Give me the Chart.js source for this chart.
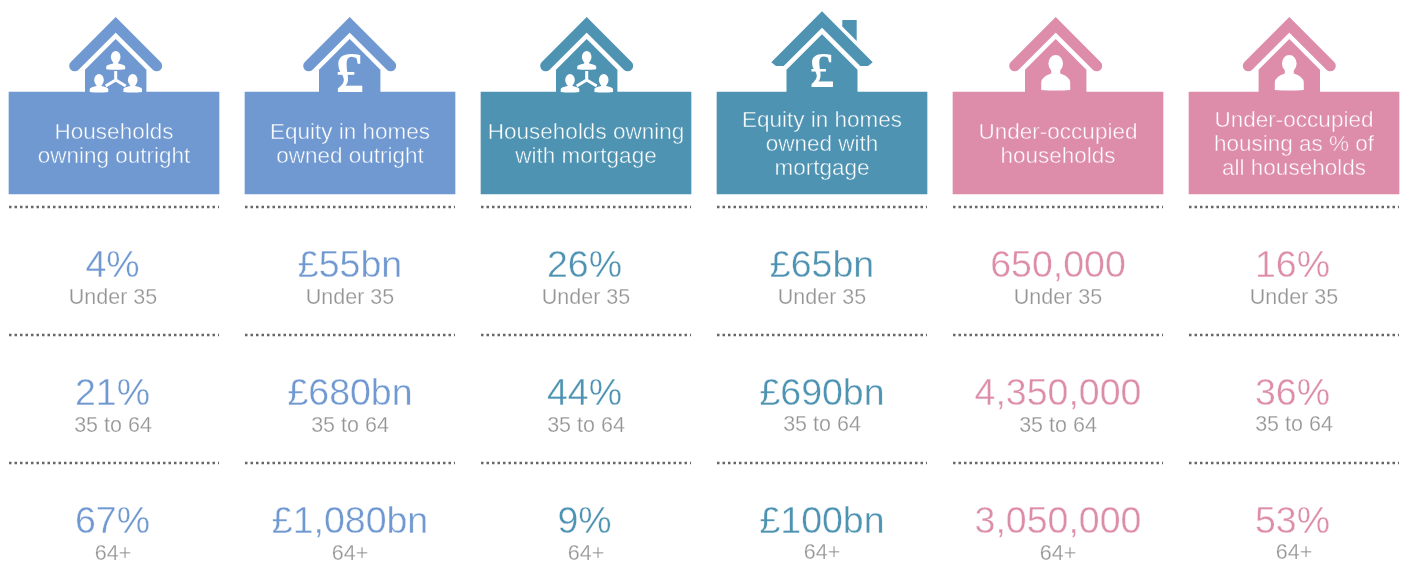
<!DOCTYPE html>
<html>
<head>
<meta charset="utf-8">
<title>Housing wealth by age</title>
<script src="https://cdn.jsdelivr.net/npm/chart.js@4/dist/chart.umd.min.js"></script>
<style>
  html, body { margin: 0; padding: 0; background: #fff; overflow: hidden; }
  canvas { display: block; }
</style>
</head>
<body>
<canvas id="chart" width="1405" height="585"></canvas>
<script>
// Column headings, one entry per text line
const categories = [
  ['Households', 'owning outright'],
  ['Equity in homes', 'owned outright'],
  ['Households owning', 'with mortgage'],
  ['Equity in homes', 'owned with', 'mortgage'],
  ['Under-occupied', 'households'],
  ['Under-occupied', 'housing as % of', 'all households']
];
const ageGroups = ['Under 35', '35 to 64', '64+'];

const householdsOutright = ['4%', '21%', '67%'];
const equityOutright = ['£55bn', '£680bn', '£1,080bn'];
const householdsMortgage = ['26%', '44%', '9%'];
const equityMortgage = ['£65bn', '£690bn', '£100bn'];
const underOccupied = ['650,000', '4,350,000', '3,050,000'];
const underOccupiedShare = ['16%', '36%', '53%'];
const columns = [householdsOutright, equityOutright, householdsMortgage, equityMortgage, underOccupied, underOccupiedShare];

const BLUE = '#7099d1';
const TEAL = '#4e93b2';
const PINK = '#dd8da9';
const columnColors = [BLUE, BLUE, TEAL, TEAL, PINK, PINK];
const icons = ['people', 'pound', 'people', 'poundChimney', 'person', 'person'];
const iconShift = [1.7, -0.3, 0.7, 0, -2.3, -4.7];
const labelShift = [-1, 0, 0, 0, 0, 0];
const labelLift = [0, 0, 0, 1, 0, 1];

const FIRST_COLUMN = 114, COLUMN_STEP = 236, BOX_WIDTH = 210;
const BOX_TOP = 92, BOX_BOTTOM = 194;
const SEPARATORS = [207, 335, 463];
const VALUE_BASELINES = [277, 405, 533];
const LABEL_BASELINES = [304, 432, 560];
const halfBox = (BOX_WIDTH / 2) / COLUMN_STEP;

// one dotted line per column and row
const separatorSets = [];
columns.forEach((col, c) => {
  SEPARATORS.forEach(y => {
    separatorSets.push({
      type: 'line',
      data: [{ x: c - halfBox, y }, { x: c + halfBox, y }],
      borderColor: '#666',
      borderWidth: 2.5,
      borderDash: [2.5, 3],
      pointRadius: 0
    });
  });
});

function person(ctx, headY, rx, ry, neck, shoulderY, bottom, halfW, cx) {
  ctx.beginPath();
  ctx.ellipse(cx, headY, rx, ry, 0, 0, Math.PI * 2);
  ctx.fill();
  ctx.beginPath();
  ctx.moveTo(cx - neck, headY);
  ctx.lineTo(cx - neck, shoulderY);
  ctx.quadraticCurveTo(cx - halfW, shoulderY + (bottom - shoulderY) * 0.2, cx - halfW, shoulderY + (bottom - shoulderY) * 0.55);
  ctx.lineTo(cx - halfW, bottom);
  ctx.quadraticCurveTo(cx, bottom + 1, cx + halfW, bottom);
  ctx.lineTo(cx + halfW, shoulderY + (bottom - shoulderY) * 0.55);
  ctx.quadraticCurveTo(cx + halfW, shoulderY + (bottom - shoulderY) * 0.2, cx + neck, shoulderY);
  ctx.lineTo(cx + neck, headY);
  ctx.closePath();
  ctx.fill();
}

function roundRoofHouse(ctx) {
  ctx.lineWidth = 11;
  ctx.lineCap = 'round';
  ctx.lineJoin = 'miter';
  ctx.beginPath();
  ctx.moveTo(-41, 65.8);
  ctx.lineTo(0, 24.8);
  ctx.lineTo(41, 65.8);
  ctx.stroke();
  ctx.beginPath();
  ctx.moveTo(0, 39);
  ctx.lineTo(30.7, 69.7);
  ctx.lineTo(30.7, BOX_TOP);
  ctx.lineTo(-30.7, BOX_TOP);
  ctx.lineTo(-30.7, 69.7);
  ctx.closePath();
  ctx.fill();
}

function chimneyHouse(ctx) {
  ctx.beginPath();
  ctx.moveTo(0, 11.3);
  ctx.lineTo(50.7, 62.3);
  ctx.lineTo(46, 66);
  ctx.lineTo(38.3, 66);
  ctx.lineTo(0, 27.7);
  ctx.lineTo(-38.3, 66);
  ctx.lineTo(-46, 66);
  ctx.lineTo(-50.7, 62.3);
  ctx.closePath();
  ctx.fill();
  ctx.beginPath();
  ctx.moveTo(20.3, 20);
  ctx.lineTo(34.7, 20);
  ctx.lineTo(34.7, 41);
  ctx.lineTo(20.3, 26.6);
  ctx.closePath();
  ctx.fill();
  ctx.beginPath();
  ctx.moveTo(0, 34.3);
  ctx.lineTo(35.5, 69.8);
  ctx.lineTo(35.5, BOX_TOP);
  ctx.lineTo(-35.5, BOX_TOP);
  ctx.lineTo(-35.5, 69.8);
  ctx.closePath();
  ctx.fill();
}

function drawIcon(ctx, kind, color) {
  ctx.fillStyle = color;
  ctx.strokeStyle = color;
  if (kind === 'poundChimney') chimneyHouse(ctx);
  else roundRoofHouse(ctx);

  ctx.fillStyle = '#fff';
  ctx.strokeStyle = '#fff';
  if (kind === 'people') {
    person(ctx, 57, 4.8, 6, 2.5, 63.5, 69.3, 9.5, 0);
    person(ctx, 80, 4.8, 6, 2.5, 86, 92, 9.3, -16.7);
    person(ctx, 80, 4.8, 6, 2.5, 86, 92, 9.3, 17);
    ctx.lineWidth = 3;
    ctx.lineCap = 'butt';
    ctx.beginPath();
    ctx.moveTo(0, 71);
    ctx.lineTo(0, 80);
    ctx.moveTo(-10, 86);
    ctx.lineTo(0, 80);
    ctx.lineTo(10, 86);
    ctx.stroke();
  } else if (kind === 'person') {
    person(ctx, 63.5, 7.3, 8.5, 4.5, 73.5, 90, 14.5, 0);
  } else {
    const big = kind === 'pound';
    ctx.font = 'bold ' + (big ? 57 : 50) + 'px "Liberation Serif"';
    ctx.textAlign = 'center';
    ctx.textBaseline = 'alphabetic';
    ctx.fillText('£', 0, big ? 92 : 87);
  }
}

function lightText(ctx, text, x, y, color, behind, thin) {
  ctx.fillStyle = color;
  ctx.fillText(text, x, y);
  // the original face is a light weight, shave the glyph edges
  ctx.strokeStyle = behind;
  ctx.lineWidth = thin;
  ctx.strokeText(text, x, y);
}

const infographicPlugin = {
  id: 'infographic',
  afterDatasetsDraw(chart) {
    const ctx = chart.ctx;
    const xs = chart.scales.x;
    const ys = chart.scales.y;
    ctx.save();
    ctx.textAlign = 'center';
    ctx.textBaseline = 'alphabetic';

    columns.forEach((values, c) => {
      const cx = xs.getPixelForValue(c);
      const color = columnColors[c];

      ctx.save();
      ctx.translate(cx + iconShift[c], 0);
      drawIcon(ctx, icons[c], color);
      ctx.restore();

      ctx.font = '22.5px "Liberation Sans"';
      ctx.textAlign = 'center';
      const firstLine = 163 - 12 * categories[c].length;
      categories[c].forEach((line, i) => {
        lightText(ctx, line, cx, ys.getPixelForValue(firstLine + i * 24), '#fff', color, 0.45);
      });

      values.forEach((value, r) => {
        // percent signs sit a little tighter in the original, so those cells lean left
        const valueShift = value.endsWith('%') ? -1.5 : 0;
        ctx.font = '37.5px "Liberation Sans"';
        lightText(ctx, value, cx + valueShift, ys.getPixelForValue(VALUE_BASELINES[r]), color, '#fff', 0.4);
        ctx.font = '21.5px "Liberation Sans"';
        const lift = r > 0 ? labelLift[c] : 0;
        lightText(ctx, ageGroups[r], cx + labelShift[c], ys.getPixelForValue(LABEL_BASELINES[r] - lift), '#949494', '#fff', 0.25);
      });
    });
    ctx.restore();
  }
};

new Chart(document.getElementById('chart'), {
  data: {
    datasets: [
      {
        type: 'bar',
        data: columns.map((col, c) => ({ x: c, y: [BOX_TOP, BOX_BOTTOM] })),
        backgroundColor: columnColors,
        barThickness: BOX_WIDTH,
        borderWidth: 0
      },
      ...separatorSets
    ]
  },
  options: {
    responsive: false,
    animation: false,
    layout: { padding: 0 },
    plugins: { legend: { display: false }, tooltip: { enabled: false } },
    scales: {
      x: {
        type: 'linear',
        display: false,
        offset: false,
        min: -FIRST_COLUMN / COLUMN_STEP,
        max: (1405 - FIRST_COLUMN) / COLUMN_STEP
      },
      y: { type: 'linear', display: false, reverse: true, min: 0, max: 585 }
    }
  },
  plugins: [infographicPlugin]
});
</script>
</body>
</html>
